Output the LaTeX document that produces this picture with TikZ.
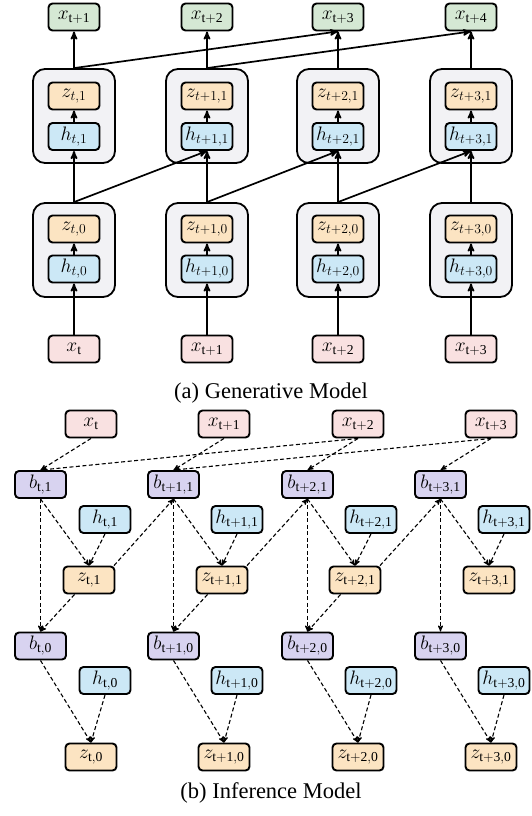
\RequirePackage{fix-cm}
\documentclass[tikz,border=0pt]{standalone}
\usepackage{fontspec}
\setmainfont{Liberation Serif}
\usetikzlibrary{arrows}
\definecolor{xgreen}{RGB}{213,232,212}
\definecolor{xpink}{RGB}{249,225,225}
\definecolor{zorange}{RGB}{252,228,194}
\definecolor{hblue}{RGB}{204,232,246}
\definecolor{bpurple}{RGB}{216,211,240}
\definecolor{cellgray}{RGB}{242,242,245}
\begin{document}
\begin{tikzpicture}[x=1pt,y=-1pt,>=stealth',
    box node/.style={rectangle,rounded corners=4pt,draw,line width=1.9pt,minimum width=51pt,minimum height=27pt,inner sep=0pt,font=\fontsize{19.5}{22}\selectfont},
    x out node/.style={box node,fill=xgreen}, x in node/.style={box node,fill=xpink},
    z node/.style={box node,fill=zorange}, h node/.style={box node,fill=hblue}, b node/.style={box node,fill=bpurple},
    cell node/.style={rectangle,rounded corners=12pt,draw,line width=1.8pt,fill=cellgray,minimum width=82pt,minimum height=94pt},
    cap node/.style={anchor=base,font=\fontsize{22.5}{26}\selectfont},
    gen edge/.style={->,line width=1.7pt}, inf edge/.style={->,line width=1.1pt,dash pattern=on 4pt off 2.5pt}]
   \useasboundingbox (0,0) rectangle (531,816);

   % generative model
   \node[cell node] (ua1) at (74,116) {};
   \node[cell node] (ua2) at (207,116) {};
   \node[cell node] (ua3) at (338,116) {};
   \node[cell node] (ua4) at (471,116) {};
   \node[cell node] (la1) at (74,250) {};
   \node[cell node] (la2) at (207,250) {};
   \node[cell node] (la3) at (338,250) {};
   \node[cell node] (la4) at (471,250) {};

   \node[x out node] (xa1) at (74,17) {$x_{\mathrm{t+1}}$};
   \node[x out node] (xa2) at (207,17) {$x_{\mathrm{t+2}}$};
   \node[x out node] (xa3) at (338,17) {$x_{\mathrm{t+3}}$};
   \node[x out node] (xa4) at (471,17) {$x_{\mathrm{t+4}}$};

   \node[z node] (za1) at (74,96) {$z_{t,1}$};
   \node[z node] (za2) at (207,96) {$z_{t+1,1}$};
   \node[z node] (za3) at (338,96) {$z_{t+2,1}$};
   \node[z node] (za4) at (471,96) {$z_{t+3,1}$};
   \node[h node] (ha1) at (74,136.5) {$h_{t,1}$};
   \node[h node] (ha2) at (207,136.5) {$h_{t+1,1}$};
   \node[h node] (ha3) at (338,136.5) {$h_{t+2,1}$};
   \node[h node] (ha4) at (471,136.5) {$h_{t+3,1}$};

   \node[z node] (zb1) at (74,229) {$z_{t,0}$};
   \node[z node] (zb2) at (207,229) {$z_{t+1,0}$};
   \node[z node] (zb3) at (338,229) {$z_{t+2,0}$};
   \node[z node] (zb4) at (471,229) {$z_{t+3,0}$};
   \node[h node] (hb1) at (74,269) {$h_{t,0}$};
   \node[h node] (hb2) at (207,269) {$h_{t+1,0}$};
   \node[h node] (hb3) at (338,269) {$h_{t+2,0}$};
   \node[h node] (hb4) at (471,269) {$h_{t+3,0}$};

   \node[x in node] (xi1) at (74,349) {$x_{\mathrm{t}}$};
   \node[x in node] (xi2) at (207,349) {$x_{\mathrm{t+1}}$};
   \node[x in node] (xi3) at (338,349) {$x_{\mathrm{t+2}}$};
   \node[x in node] (xi4) at (471,349) {$x_{\mathrm{t+3}}$};

   \path[gen edge] (xi1) edge (hb1);
   \path[gen edge] (xi2) edge (hb2);
   \path[gen edge] (xi3) edge (hb3);
   \path[gen edge] (xi4) edge (hb4);
   \path[gen edge] (hb1) edge (zb1);
   \path[gen edge] (hb2) edge (zb2);
   \path[gen edge] (hb3) edge (zb3);
   \path[gen edge] (hb4) edge (zb4);
   \path[gen edge] (la1.north) edge (ha1.south);
   \path[gen edge] (la2.north) edge (ha2.south);
   \path[gen edge] (la3.north) edge (ha3.south);
   \path[gen edge] (la4.north) edge (ha4.south);
   \path[gen edge] (la1.north) edge (ha2.south);
   \path[gen edge] (la2.north) edge (ha3.south);
   \path[gen edge] (la3.north) edge (ha4.south);
   \path[gen edge] (ha1) edge (za1);
   \path[gen edge] (ha2) edge (za2);
   \path[gen edge] (ha3) edge (za3);
   \path[gen edge] (ha4) edge (za4);
   \path[gen edge] (ua1.north) edge (xa1.south);
   \path[gen edge] (ua2.north) edge (xa2.south);
   \path[gen edge] (ua3.north) edge (xa3.south);
   \path[gen edge] (ua4.north) edge (xa4.south);
   \path[gen edge] (ua1.north) edge (xa3.south);
   \path[gen edge] (ua2.north) edge (xa4.south);

   \node[cap node] (capa) at (271,398) {(a) Generative Model};

   % inference model
   \node[x in node] (ix1) at (91,424) {$x_{\mathrm{t}}$};
   \node[x in node] (ix2) at (224,424) {$x_{\mathrm{t+1}}$};
   \node[x in node] (ix3) at (358,424) {$x_{\mathrm{t+2}}$};
   \node[x in node] (ix4) at (491,424) {$x_{\mathrm{t+3}}$};

   \node[b node] (bu1) at (40.5,484.5) {$b_{\mathrm{t,1}}$};
   \node[b node] (bu2) at (173.5,484.5) {$b_{\mathrm{t+1,1}}$};
   \node[b node] (bu3) at (307.5,484.5) {$b_{\mathrm{t+2,1}}$};
   \node[b node] (bu4) at (440.5,484.5) {$b_{\mathrm{t+3,1}}$};
   \node[h node] (hu1) at (105,519.5) {$h_{\mathrm{t,1}}$};
   \node[h node] (hu2) at (237,519.5) {$h_{\mathrm{t+1,1}}$};
   \node[h node] (hu3) at (371,519.5) {$h_{\mathrm{t+2,1}}$};
   \node[h node] (hu4) at (504,519.5) {$h_{\mathrm{t+3,1}}$};
   \node[z node] (zu1) at (89,580) {$z_{\mathrm{t,1}}$};
   \node[z node] (zu2) at (222,580) {$z_{\mathrm{t+1,1}}$};
   \node[z node] (zu3) at (355,580) {$z_{\mathrm{t+2,1}}$};
   \node[z node] (zu4) at (489,580) {$z_{\mathrm{t+3,1}}$};

   \node[b node] (bl1) at (40.5,646) {$b_{\mathrm{t,0}}$};
   \node[b node] (bl2) at (173.5,646) {$b_{\mathrm{t+1,0}}$};
   \node[b node] (bl3) at (307.5,646) {$b_{\mathrm{t+2,0}}$};
   \node[b node] (bl4) at (440.5,646) {$b_{\mathrm{t+3,0}}$};
   \node[h node] (hl1) at (105,680.5) {$h_{\mathrm{t,0}}$};
   \node[h node] (hl2) at (237,680.5) {$h_{\mathrm{t+1,0}}$};
   \node[h node] (hl3) at (371,680.5) {$h_{\mathrm{t+2,0}}$};
   \node[h node] (hl4) at (504,680.5) {$h_{\mathrm{t+3,0}}$};
   \node[z node] (zl1) at (91,757) {$z_{\mathrm{t,0}}$};
   \node[z node] (zl2) at (224,757) {$z_{\mathrm{t+1,0}}$};
   \node[z node] (zl3) at (358,757) {$z_{\mathrm{t+2,0}}$};
   \node[z node] (zl4) at (491,757) {$z_{\mathrm{t+3,0}}$};

   \path[inf edge] (ix1.south) edge (bu1.north);
   \path[inf edge] (ix3.south) edge (bu1.north);
   \path[inf edge] (ix2.south) edge (bu2.north);
   \path[inf edge] (ix4.south) edge (bu2.north);
   \path[inf edge] (ix3.south) edge (bu3.north);
   \path[inf edge] (ix4.south) edge (bu4.north);

   \path[inf edge] (bu1.south) edge (zu1.north);
   \path[inf edge] (bu2.south) edge (zu2.north);
   \path[inf edge] (bu3.south) edge (zu3.north);
   \path[inf edge] (bu4.south) edge (zu4.north);
   \path[inf edge] (hu1.south) edge (zu1.north);
   \path[inf edge] (hu2.south) edge (zu2.north);
   \path[inf edge] (hu3.south) edge (zu3.north);
   \path[inf edge] (hu4.south) edge (zu4.north);
   \path[inf edge] (zu1.30) edge (bu2.south);
   \path[inf edge] (zu2.30) edge (bu3.south);
   \path[inf edge] (zu3.30) edge (bu4.south);

   \path[inf edge] (bu1.south) edge (bl1.north);
   \path[inf edge] (bu2.south) edge (bl2.north);
   \path[inf edge] (bu3.south) edge (bl3.north);
   \path[inf edge] (bu4.south) edge (bl4.north);
   \path[inf edge] (zu1.-135) edge (bl1.north);
   \path[inf edge] (zu2.-135) edge (bl2.north);
   \path[inf edge] (zu3.-135) edge (bl3.north);

   \path[inf edge] (bl1.south) edge (zl1.north);
   \path[inf edge] (bl2.south) edge (zl2.north);
   \path[inf edge] (bl3.south) edge (zl3.north);
   \path[inf edge] (bl4.south) edge (zl4.north);
   \path[inf edge] (hl1.south) edge (zl1.north);
   \path[inf edge] (hl2.south) edge (zl2.north);
   \path[inf edge] (hl3.south) edge (zl3.north);
   \path[inf edge] (hl4.south) edge (zl4.north);

   \node[cap node] (capb) at (271,798) {(b) Inference Model};
  \end{tikzpicture}
\end{document}
